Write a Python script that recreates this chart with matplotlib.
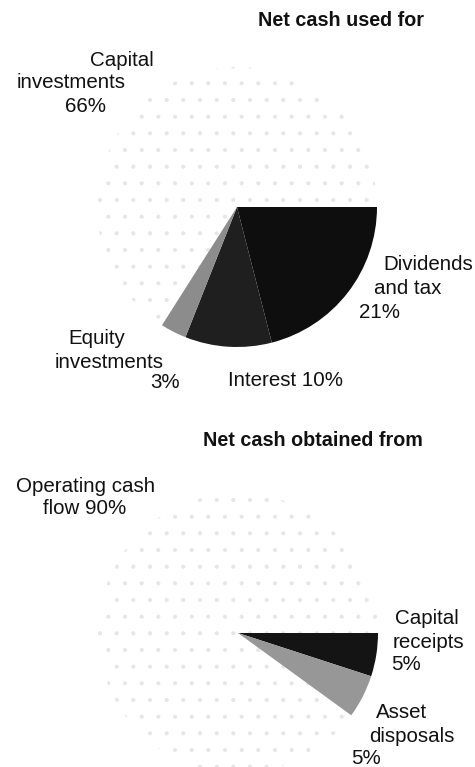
import matplotlib.pyplot as plt

plt.rcParams['font.family'] = ['Liberation Sans', 'DejaVu Sans']
plt.rcParams['hatch.linewidth'] = 0.5

# net cash used for (clockwise from 3 o'clock)
used_labels = ["Dividends and tax", "Interest", "Equity investments", "Capital investments"]
used_pct = [21, 10, 3, 66]
used_colors = ['#0e0e0e', '#1f1f1f', '#8c8c8c', 'white']

# net cash obtained from
obt_labels = ["Capital receipts", "Asset disposals", "Operating cash flow"]
obt_pct = [5, 5, 90]
obt_colors = ['#141414', '#979797', 'white']

W, H = 475, 767
fig = plt.figure(figsize=(W / 100, H / 100), dpi=100)
ax = fig.add_axes([0, 0, 1, 1])


def Y(y):
    # work in pixel-like units measured from the top
    return H - y


def pie(vals, colors, cx, cy, r):
    wedges, _ = ax.pie(vals, colors=colors, center=(cx, Y(cy)), radius=r,
                       startangle=0, counterclock=False,
                       wedgeprops=dict(linewidth=0))
    # faint stipple on the big, pale slice
    w = wedges[-1]
    w.set_hatch('.')
    w.set_edgecolor('#e6e6e6')
    w.set_zorder(0)
    return wedges


pie(used_pct, used_colors, 237, 207, 140)
pie(obt_pct, obt_colors, 238, 633, 140)

ax.set_xlim(0, W)
ax.set_ylim(0, H)
ax.set_aspect('auto')
ax.axis('off')

fs = 14.8


def txt(x, y, s, ha='center', size=fs, **kw):
    ax.text(x, Y(y), s, ha=ha, va='center', fontsize=size, color='#111111', **kw)


txt(341, 21, "Net cash used for", size=14.2, fontweight='bold')
txt(313, 441, "Net cash obtained from", size=14.2, fontweight='bold')

# top pie labels
txt(122, 61, "Capital")
txt(71, 83, "investments")
txt(85, 107, f"{used_pct[3]}%")

txt(428, 265, "Dividends")
txt(408, 288, "and tax")
txt(380, 312, f"{used_pct[0]}%")

txt(97, 338, "Equity")
txt(109, 362, "investments")
txt(165, 383, f"{used_pct[2]}%")

txt(286, 380, f"Interest {used_pct[1]}%")

# bottom pie labels
txt(86, 487, "Operating cash")
txt(85, 508, f"flow {obt_pct[2]}%")

txt(427, 618, "Capital")
txt(428, 642, "receipts")
txt(406, 665, f"{obt_pct[0]}%")

txt(402, 713, "Asset")
txt(412, 736, "disposals")
txt(366, 758, f"{obt_pct[1]}%")

fig.savefig("out.png", dpi=100, facecolor='white')
